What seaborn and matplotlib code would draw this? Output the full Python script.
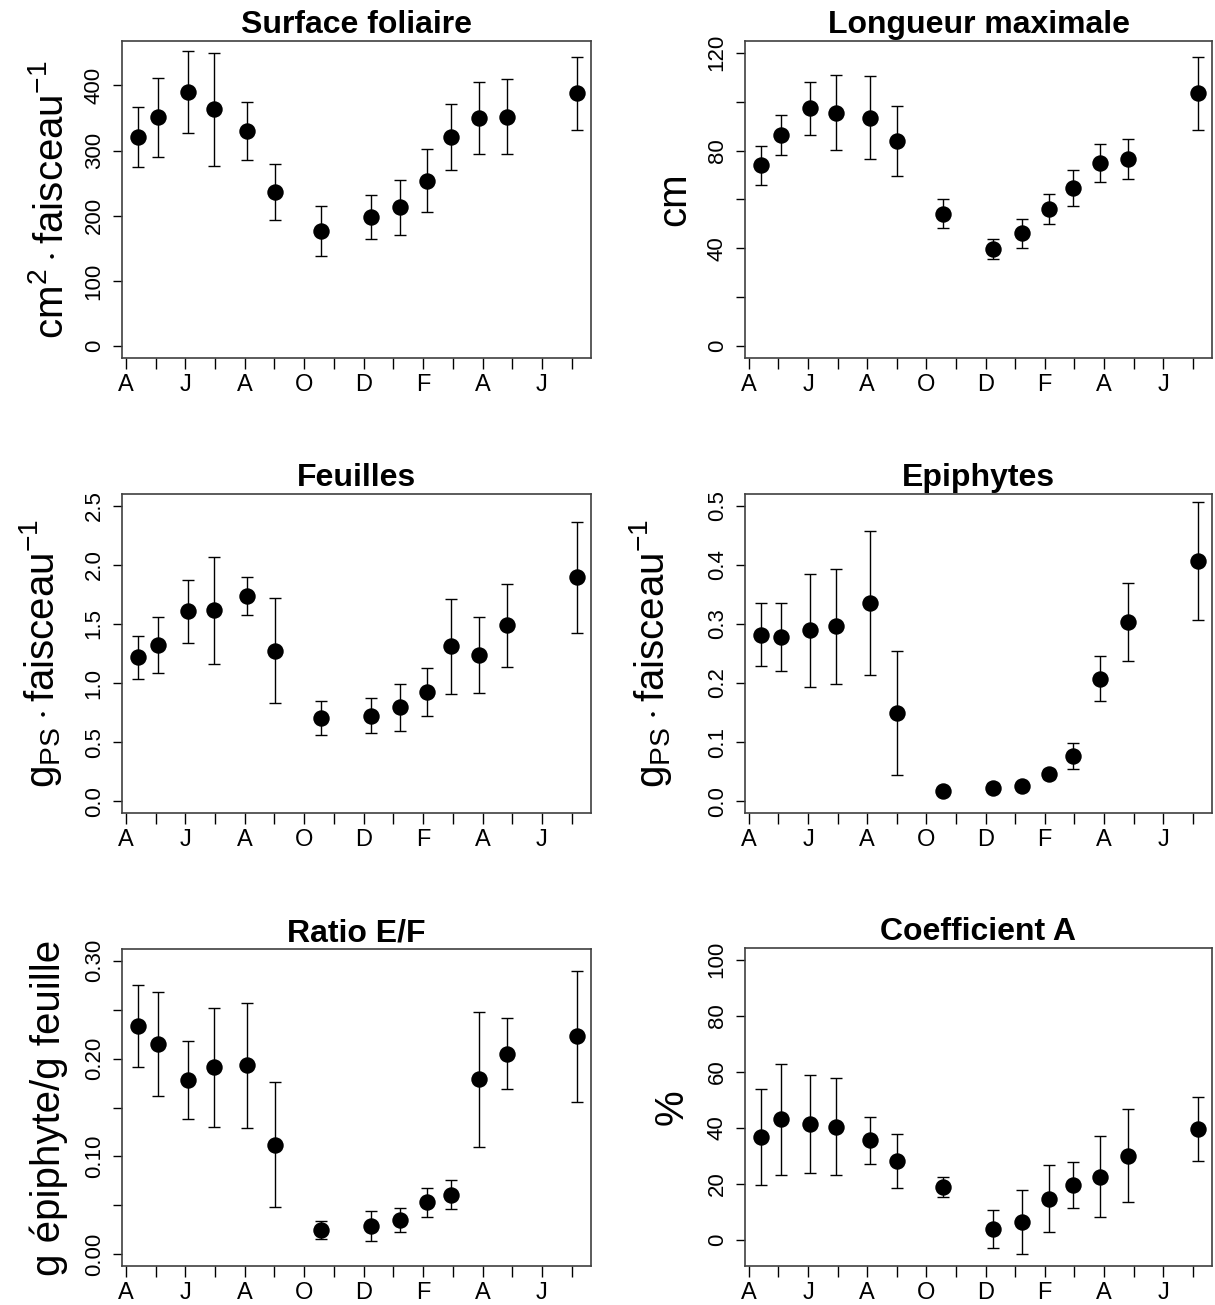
import matplotlib
matplotlib.use("Agg")
import matplotlib.pyplot as plt
import seaborn as sns
import pandas as pd

# Sampling dates, expressed in months since 1 April (first tick)
mois = [0.41, 1.08, 2.08, 2.96, 4.08, 5.02, 6.55, 8.25, 9.23, 10.14, 10.94, 11.88, 12.82, 15.18]
mois_ticks = list(range(16))
mois_labels = ["A", "", "J", "", "A", "", "O", "", "D", "", "F", "", "A", "", "J", ""]

# Surface foliaire (cm2 per shoot): mean and error half-width
surface = [321, 351, 390, 363, 330, 236, 177, 198, 213, 254, 321, 350, 352, 388]
surface_err = [46, 61, 63, 87, 44, 43, 38, 34, 42, 48, 51, 55, 58, 56]

# Longueur maximale (cm)
longueur = [74.0, 86.4, 97.3, 95.5, 93.5, 84.1, 54.2, 39.7, 46.1, 56.2, 64.8, 74.9, 76.7, 103.4]
longueur_err = [8.0, 8.3, 10.8, 15.2, 17.0, 14.3, 5.9, 4.2, 6.1, 6.1, 7.3, 7.6, 8.2, 14.9]

# Feuilles (g dry weight per shoot)
feuilles = [1.217, 1.324, 1.606, 1.614, 1.738, 1.273, 0.704, 0.724, 0.794, 0.924, 1.310, 1.239, 1.487, 1.896]
feuilles_err = [0.18, 0.235, 0.27, 0.45, 0.16, 0.445, 0.14, 0.15, 0.20, 0.205, 0.40, 0.32, 0.35, 0.47]

# Epiphytes (g dry weight per shoot)
epiphytes = [0.282, 0.278, 0.289, 0.296, 0.335, 0.150, 0.017, 0.023, 0.025, 0.046, 0.077, 0.207, 0.303, 0.406]
epiphytes_err = [0.054, 0.057, 0.095, 0.097, 0.122, 0.105, 0.005, 0.007, 0.006, 0.008, 0.022, 0.038, 0.066, 0.10]

# Ratio epiphytes / leaves
ratio = [0.233, 0.215, 0.178, 0.191, 0.193, 0.112, 0.025, 0.029, 0.035, 0.053, 0.061, 0.179, 0.205, 0.223]
ratio_err = [0.042, 0.053, 0.040, 0.061, 0.064, 0.064, 0.009, 0.015, 0.0125, 0.015, 0.0145, 0.069, 0.036, 0.067]

# Coefficient A (%)
coef_a = [36.9, 43.1, 41.5, 40.5, 35.6, 28.2, 19.0, 3.9, 6.5, 14.8, 19.6, 22.7, 30.2, 39.7]
coef_a_err = [17.1, 19.9, 17.5, 17.2, 8.5, 9.5, 3.7, 6.7, 11.4, 12.0, 8.2, 14.5, 16.6, 11.3]

sns.set_theme(style="ticks")
plt.rcParams["font.family"] = ["Liberation Sans", "DejaVu Sans"]
plt.rcParams["text.color"] = "black"
plt.rcParams["mathtext.fontset"] = "custom"
plt.rcParams["mathtext.rm"] = "Liberation Sans"
plt.rcParams["mathtext.it"] = "Liberation Sans:italic"
plt.rcParams["mathtext.bf"] = "Liberation Sans:bold"

W, H = 1215, 1305
fig = plt.figure(figsize=(W / 100, H / 100), dpi=100)

lab_faisceau = r"$\mathrm{cm}^{2}\cdot\mathrm{faisceau}^{-1}$"
lab_gps = r"$\mathrm{g}_{\mathrm{PS}}\cdot\mathrm{faisceau}^{-1}$"

panels = [
    dict(title="Surface foliaire", y=surface, e=surface_err, ylim=(-18, 468),
         yt=[0, 100, 200, 300, 400], ytl=["0", "100", "200", "300", "400"],
         ylabel=lab_faisceau, box=(122, 41, 591, 358), lx=63),
    dict(title="Longueur maximale", y=longueur, e=longueur_err, ylim=(-4.8, 124.8),
         yt=[0, 20, 40, 60, 80, 100, 120], ytl=["0", "", "40", "", "80", "", "120"],
         ylabel="cm", box=(745, 41, 1212, 358), lx=685),
    dict(title="Feuilles", y=feuilles, e=feuilles_err, ylim=(-0.1, 2.6),
         yt=[0, 0.5, 1.0, 1.5, 2.0, 2.5], ytl=["0.0", "0.5", "1.0", "1.5", "2.0", "2.5"],
         ylabel=lab_gps, box=(122, 494, 591, 813), lx=54),
    dict(title="Epiphytes", y=epiphytes, e=epiphytes_err, ylim=(-0.02, 0.52),
         yt=[0, 0.1, 0.2, 0.3, 0.4, 0.5], ytl=["0.0", "0.1", "0.2", "0.3", "0.4", "0.5"],
         ylabel=lab_gps, box=(745, 494, 1212, 813), lx=664),
    dict(title="Ratio E/F", y=ratio, e=ratio_err, ylim=(-0.012, 0.312),
         yt=[0, 0.05, 0.10, 0.15, 0.20, 0.25, 0.30],
         ytl=["0.00", "", "0.10", "", "0.20", "", "0.30"],
         ylabel="g épiphyte/g feuille", box=(122, 949, 591, 1266), lx=60),
    dict(title="Coefficient A", y=coef_a, e=coef_a_err, ylim=(-9.2, 104.2),
         yt=[0, 20, 40, 60, 80, 100], ytl=["0", "20", "40", "60", "80", "100"],
         ylabel="%", box=(745, 948, 1212, 1266), lx=683),
]

for p in panels:
    x0, top, x1, bot = p["box"]
    ax = fig.add_axes([x0 / W, 1 - bot / H, (x1 - x0) / W, (bot - top) / H])
    df = pd.DataFrame({"mois": mois, "valeur": p["y"]})
    ax.errorbar(mois, p["y"], yerr=p["e"], fmt="none", ecolor="black",
                elinewidth=1.0, capsize=4, capthick=1.0, zorder=2)
    sns.scatterplot(data=df, x="mois", y="valeur", ax=ax, color="black",
                    s=140, edgecolor="black", linewidth=0, zorder=3, legend=False)
    ax.set_xlim(-0.13, 15.65)
    ax.set_ylim(*p["ylim"])
    ax.set_xticks(mois_ticks, mois_labels)
    ax.set_yticks(p["yt"], p["ytl"])
    ax.set_xlabel("")
    ax.set_ylabel("")
    ax.tick_params(axis="y", labelrotation=90, length=6.5, width=1.0, pad=6,
                   labelsize=16, color="black", labelcolor="black")
    ax.tick_params(axis="x", length=8, width=1.0, pad=3.3, labelsize=17,
                   color="black", labelcolor="black")
    for lbl in ax.get_yticklabels():
        lbl.set_va("center")
    for sp in ax.spines.values():
        sp.set_visible(True)
        sp.set_color("#404040")
        sp.set_linewidth(1.2)
    ax.set_title(p["title"], fontsize=23, fontweight="bold", pad=5.5, color="black")
    fig.text(p["lx"] / W, 1 - (top + bot) / 2 / H, p["ylabel"], rotation=90,
             rotation_mode="anchor", ha="center", va="baseline", fontsize=29,
             color="black")

fig.savefig("out.png", dpi=100, facecolor="white")
